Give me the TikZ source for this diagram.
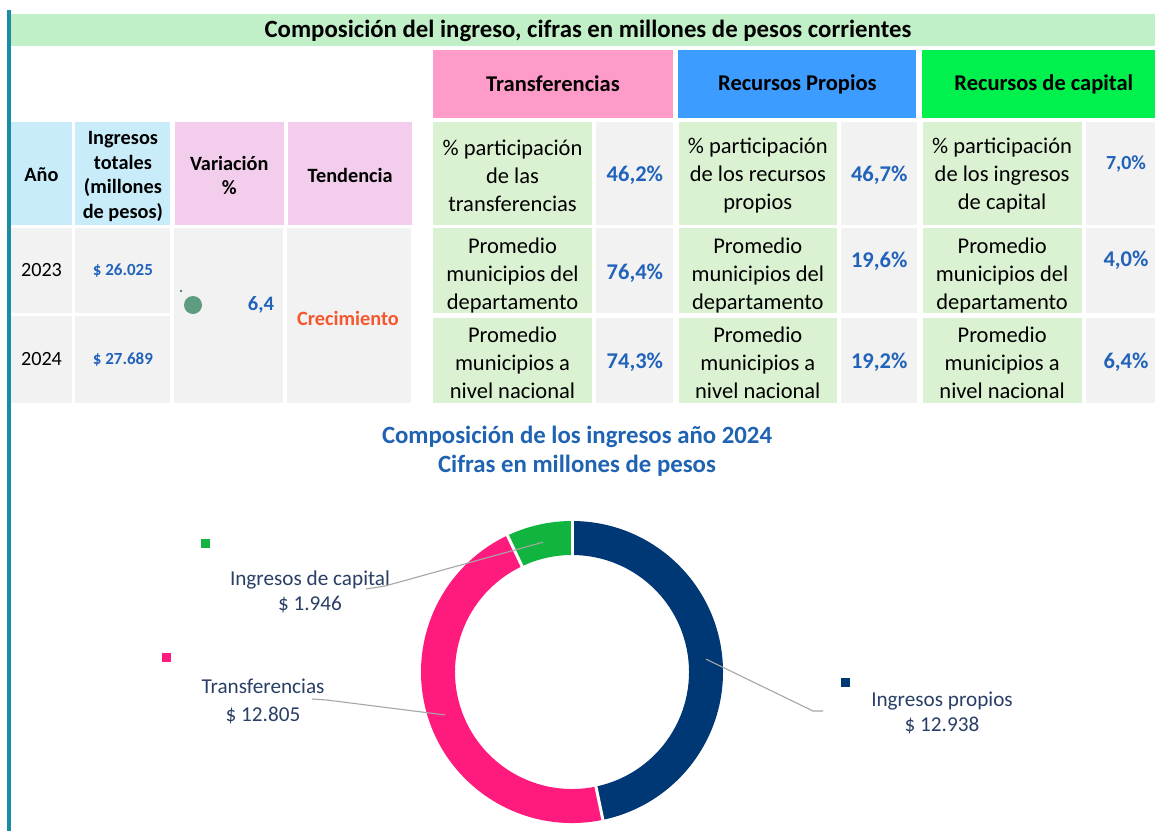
\documentclass[tikz,border=0pt]{standalone}
\usepackage{fontspec}
\setmainfont{Carlito}
\usepackage{tikz}
\usetikzlibrary{positioning}
\definecolor{barra}{HTML}{1A8CA3}
\definecolor{titfondo}{HTML}{C1F0C8}
\definecolor{celeste}{HTML}{C8ECFA}
\definecolor{lila}{HTML}{F2CEEC}
\definecolor{gris}{HTML}{F2F2F2}
\definecolor{verdeclaro}{HTML}{DBF2D2}
\definecolor{rosahdr}{HTML}{FF9BC8}
\definecolor{azulhdr}{HTML}{3D9CFF}
\definecolor{verdehdr}{HTML}{00F04E}
\definecolor{azulnum}{HTML}{2163BA}
\definecolor{naranja}{HTML}{F4572E}
\definecolor{azultit}{HTML}{1F63B2}
\definecolor{marino}{HTML}{003876}
\definecolor{fucsia}{HTML}{FF1B7D}
\definecolor{verdetorta}{HTML}{11B43E}
\definecolor{textochart}{HTML}{2A3F66}
\definecolor{guia}{HTML}{A6A6A6}
\definecolor{punto}{HTML}{5E9C80}

\begin{document}
\begin{tikzpicture}[x=1pt, y=-1pt,
    box/.style={inner sep=0pt, align=center},
    hdr/.style={box, font=\bfseries\fontsize{22.5}{28}\selectfont, minimum height=68pt},
    lhd/.style={box, minimum height=103pt},
    lhdtxt/.style={align=center, inner sep=0pt, font=\bfseries\fontsize{20.3}{24.8}\selectfont},
    dat/.style={box, fill=gris, font=\fontsize{20.2}{25}\selectfont},
    lab/.style={box, fill=verdeclaro},
    labtxt/.style={align=center, inner sep=0pt, font=\fontsize{22.5}{28}\selectfont},
    vbox/.style={box, fill=gris},
    val/.style={font=\bfseries\fontsize{22.5}{28}\selectfont, text=azulnum},
    plata/.style={font=\bfseries\fontsize{17}{20}\selectfont, text=azulnum},
    etiq/.style={align=center, text=textochart, font=\fontsize{21.2}{25}\selectfont},
    marca/.style={inner sep=0pt, minimum size=9pt},
    guiaL/.style={draw=guia, line width=1.1pt}]
  \useasboundingbox (0,0) rectangle (1155,831);
  \fill[white] (0,0) rectangle (1155,831);
  \fill[barra] (7,10) rectangle (11,831);

  % titulo
  \node[box, fill=titfondo, minimum width=1144pt, minimum height=32pt] (t_0) at (583,30) {};
  \node[font=\bfseries\fontsize{24.8}{28}\selectfont] (titulo) at (588,31) {Composición del ingreso, cifras en millones de pesos corrientes};

  % encabezados
  \node[hdr, fill=rosahdr, minimum width=240pt] (t_1) at (553,84) {Transferencias};
  \node[hdr, fill=azulhdr, minimum width=238pt] (t_2) [right = 5pt of t_1] {Recursos Propios};
  \node[hdr, fill=verdehdr, minimum width=244pt] (t_3) [right = 5pt of t_2] {Recursos de capital};

  \node[lhd, fill=celeste, minimum width=61pt] (h_anio) at (41.5,173.5) {};
  \node[lhd, fill=celeste, minimum width=95pt] (h_ing) [right = 3pt of h_anio] {};
  \node[lhd, fill=lila, minimum width=109pt] (h_var) [right = 4pt of h_ing] {};
  \node[lhd, fill=lila, minimum width=124pt] (h_ten) [right = 4pt of h_var] {};
  \node[lhdtxt] at ([yshift=-1pt]h_anio) {Año};
  \node[lhdtxt] at ([yshift=-3pt]h_ing) {Ingresos\\totales\\(millones\\de pesos)};
  \node[lhdtxt] at ([yshift=-2pt]h_var) {Variación\\\%};
  \node[lhdtxt] at ([yshift=-2pt]h_ten) {Tendencia};

  % filas izquierda
  \node[dat, minimum width=61pt, minimum height=85pt] (a_23) at (41.5,270.5) {2023};
  \node[dat, minimum width=95pt, minimum height=85pt] (i_23) [right = 3pt of a_23] {};
  \node[plata] at (i_23) {\$ 26.025};
  \node[dat, minimum width=61pt, minimum height=87pt] (a_24) at (41.5,359.5) {2024};
  \node[dat, minimum width=95pt, minimum height=87pt] (i_24) [right = 3pt of a_24] {};
  \node[plata] at (i_24) {\$ 27.689};
  \node[dat, minimum width=109pt, minimum height=175pt] (v_0) at (228.5,315.5) {};
  \node[dat, minimum width=124pt, minimum height=175pt] (d_0) at (349,315.5) {};
  \node[circle, fill=punto, inner sep=0pt, minimum size=18pt] (icono) at (193,305) {};
  \fill[barra!70!black] (181,291) circle[radius=1.2pt];
  \node[val, font=\bfseries\fontsize{20.5}{25}\selectfont] (cambio) at (261,305) {6,4};
  \node[font=\bfseries\fontsize{20.3}{25}\selectfont, text=naranja] (tend) at (348,318) {Crecimiento};

  % filas derecha
  \node[lab, minimum width=159pt, minimum height=103pt] (p_11) at (512.5,173.5) {};
  \node[vbox, minimum width=77pt, minimum height=103pt] (v_11) [right = 4pt of p_11] {};
  \node[lab, minimum width=158pt, minimum height=103pt] (p_12) [right = 5pt of v_11] {};
  \node[vbox, minimum width=76pt, minimum height=103pt] (v_12) [right = 4pt of p_12] {};
  \node[lab, minimum width=159pt, minimum height=103pt] (p_13) [right = 5pt of v_12] {};
  \node[vbox, minimum width=80pt, minimum height=103pt] (v_13) [right = 4pt of p_13] {};

  \node[lab, minimum width=159pt, minimum height=85pt] (p_21) at (512.5,270.5) {};
  \node[vbox, minimum width=77pt, minimum height=85pt] (v_21) [right = 4pt of p_21] {};
  \node[lab, minimum width=158pt, minimum height=85pt] (p_22) [right = 5pt of v_21] {};
  \node[vbox, minimum width=76pt, minimum height=85pt] (v_22) [right = 4pt of p_22] {};
  \node[lab, minimum width=159pt, minimum height=85pt] (p_23) [right = 5pt of v_22] {};
  \node[vbox, minimum width=80pt, minimum height=85pt] (v_23) [right = 4pt of p_23] {};

  \node[lab, minimum width=159pt, minimum height=85pt] (p_31) at (512.5,360.5) {};
  \node[vbox, minimum width=77pt, minimum height=85pt] (v_31) [right = 4pt of p_31] {};
  \node[lab, minimum width=158pt, minimum height=85pt] (p_32) [right = 5pt of v_31] {};
  \node[vbox, minimum width=76pt, minimum height=85pt] (v_32) [right = 4pt of p_32] {};
  \node[lab, minimum width=159pt, minimum height=85pt] (p_33) [right = 5pt of v_32] {};
  \node[vbox, minimum width=80pt, minimum height=85pt] (v_33) [right = 4pt of p_33] {};

  \node[labtxt] at ([yshift=-2pt]p_11) {\% participación\\de las\\transferencias};
  \node[labtxt] at ([yshift=-2pt]p_12) {\% participación\\de los recursos\\propios};
  \node[labtxt] at ([yshift=-2pt]p_13) {\% participación\\de los ingresos\\de capital};
  \node[labtxt] at ([yshift=-4.5pt]p_21) {Promedio\\municipios del\\departamento};
  \node[labtxt] at ([yshift=-4.5pt]p_22) {Promedio\\municipios del\\departamento};
  \node[labtxt] at ([yshift=-4.5pt]p_23) {Promedio\\municipios del\\departamento};
  \node[labtxt] at ([yshift=-2.5pt]p_31) {Promedio\\municipios a\\nivel nacional};
  \node[labtxt] at ([yshift=-2.5pt]p_32) {Promedio\\municipios a\\nivel nacional};
  \node[labtxt] at ([yshift=-2.5pt]p_33) {Promedio\\municipios a\\nivel nacional};

  \node[val] at ([yshift=-2pt]v_11) {46,2\%};
  \node[val] at ([yshift=-2pt]v_12) {46,7\%};
  \node[val, font=\bfseries\fontsize{20}{24}\selectfont] at ([yshift=10pt]v_13) {7,0\%};
  \node[val] at ([yshift=-3pt]v_21) {76,4\%};
  \node[val] at ([yshift=9pt]v_22) {19,6\%};
  \node[val] at ([yshift=10.5pt]v_23) {4,0\%};
  \node[val] at ([yshift=-2pt]v_31) {74,3\%};
  \node[val] at ([yshift=-2pt]v_32) {19,2\%};
  \node[val] at ([yshift=-2pt]v_33) {6,4\%};

  % grafico de anillo
  \node[align=center, text=azultit, font=\bfseries\fontsize{24.8}{29}\selectfont] (c_tit) at (577,451) {Composición de los ingresos año 2024\\Cifras en millones de pesos};
  \coordinate (pc) at (572,672);
  \foreach \a/\b/\c in {90/-78.2/marino, -78.2/-244.7/fucsia, -244.7/-270/verdetorta}
    \fill[\c] ([shift={(\a:151pt)}]pc) arc[start angle=\a, end angle=\b, radius=151pt]
      -- ([shift={(\b:117pt)}]pc) arc[start angle=\b, end angle=\a, radius=117pt] -- cycle;
  \foreach \a in {90,-78.2,115.3}
    \draw[white, line width=3pt] ([shift={(\a:114pt)}]pc) -- ([shift={(\a:154pt)}]pc);

  \node[marca, fill=verdetorta] (m_cap) at (205.5,543.5) {};
  \node[marca, fill=fucsia] (m_tra) at (166,657.5) {};
  \node[marca, fill=marino] (m_pro) at (845,682) {};
  \node[etiq] (l_cap) at (310,591.5) {Ingresos de capital\\\$ 1.946};
  \node[etiq] (l_tra) at (263,701) {Transferencias\\[3pt]\$ 12.805};
  \node[etiq] (l_pro) at (942,712.5) {Ingresos propios\\\$ 12.938};

  \coordinate (k_cap) at ([shift={(102.6:133pt)}]pc);
  \coordinate (k_tra) at ([shift={(198.7:134pt)}]pc);
  \coordinate (k_pro) at ([shift={(5.5:134.6pt)}]pc);
  \coordinate (b_cap) at (385,586);
  \coordinate (e_cap) at (366,589);
  \coordinate (b_tra) at (327,700);
  \coordinate (e_tra) at (312,699);
  \coordinate (b_pro) at (813,711);
  \coordinate (e_pro) at (823,711);
  \draw[guiaL] (k_cap) -- (b_cap) -- (e_cap);
  \draw[guiaL] (k_tra) -- (b_tra) -- (e_tra);
  \draw[guiaL] (k_pro) -- (b_pro) -- (e_pro);
\end{tikzpicture}
\end{document}
